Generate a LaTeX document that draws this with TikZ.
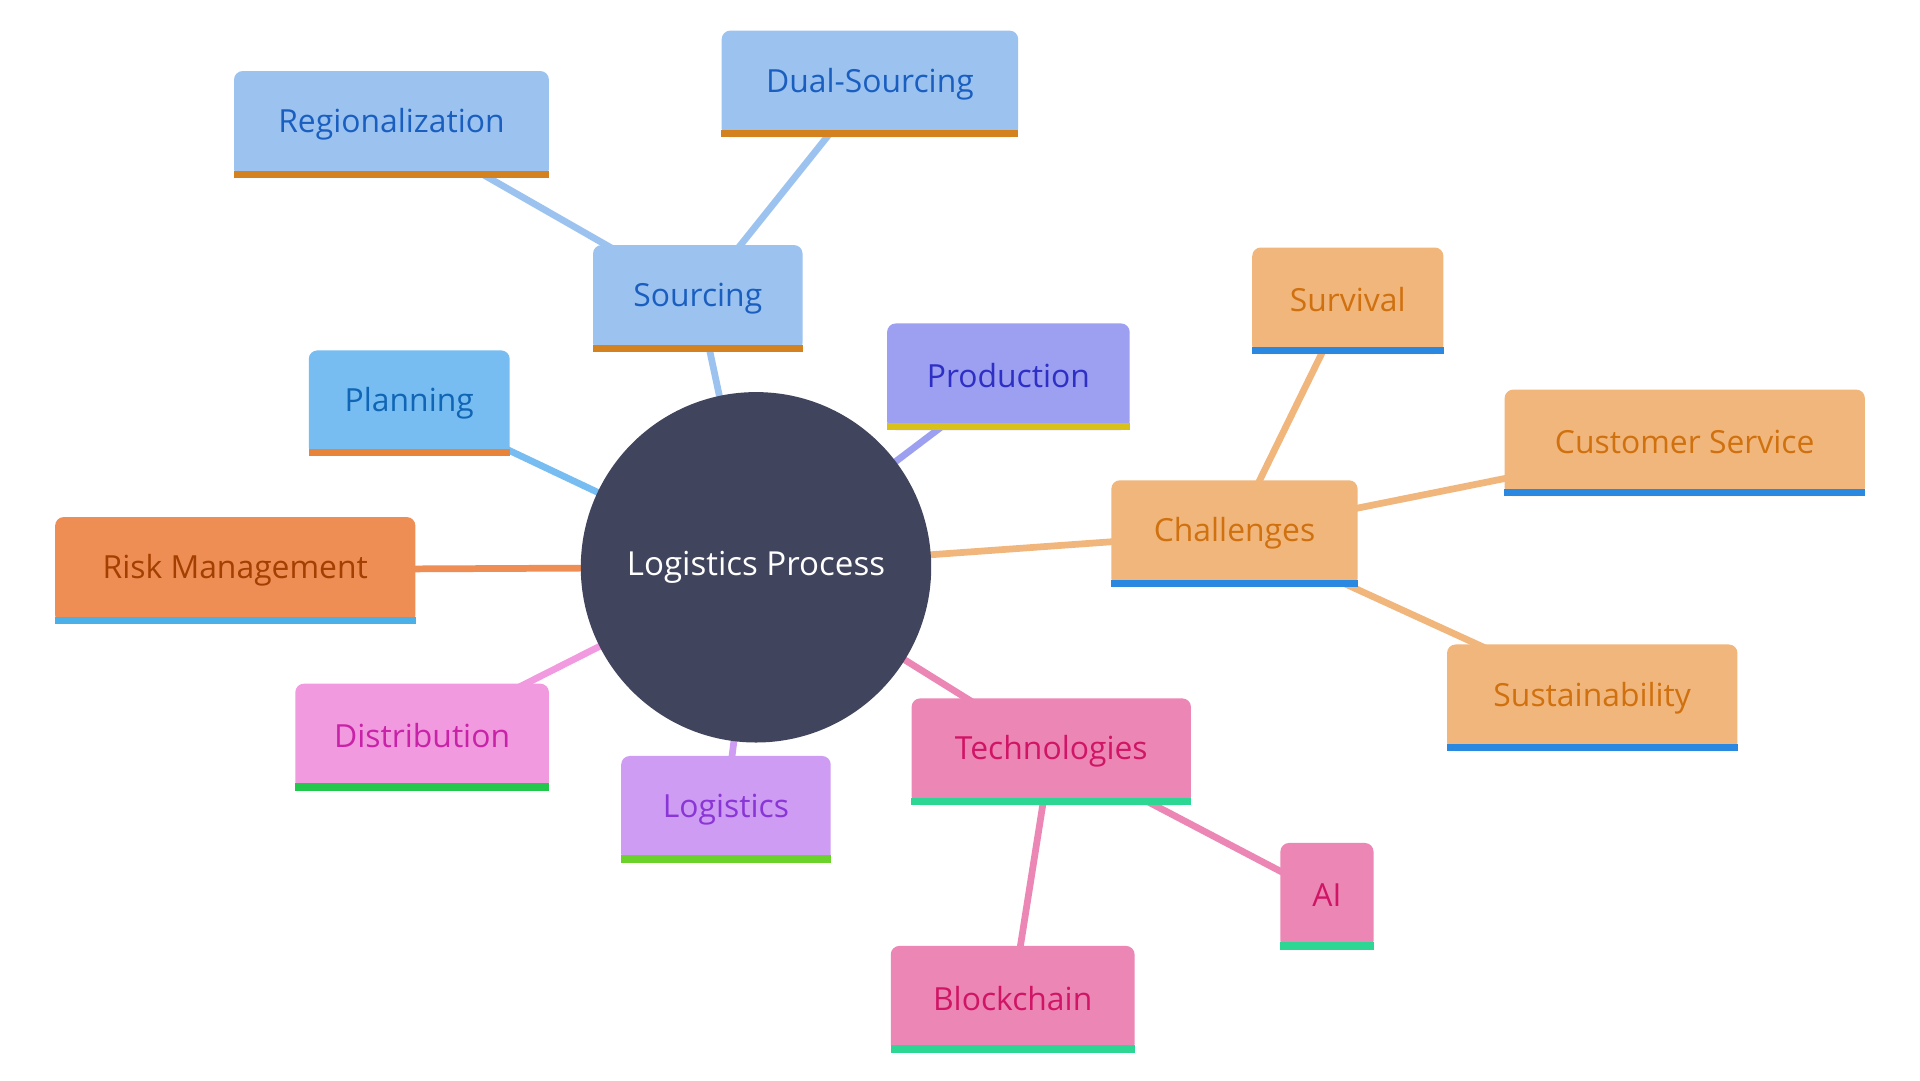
\documentclass[tikz,border=0pt]{standalone}
\usepackage{fontspec}
\setmainfont{Open Sans}
\begin{document}
\begin{tikzpicture}[x=1pt,y=-1pt,
  edge/.style={line width=5.5pt},
  box/.style={rounded corners=7pt,inner sep=0pt,font=\fontsize{26}{30}\selectfont}]
\useasboundingbox[fill=white] (0,0) rectangle (1567,882);
\newcommand\bx[9]{%
  \node[box,fill=#6,text=#8,minimum width={#4-#2},minimum height={#5-#3}] (#1) at ({(#2+#4)/2},{(#3+#5)/2}) {\raisebox{2pt}{#9}};
  \fill[#7] ([yshift=6pt]#1.south west) rectangle (#1.south east);}
\definecolor{cS}{HTML}{9CC3F0}\definecolor{tS}{HTML}{1A5FC0}\definecolor{sS}{HTML}{D4821F}
\definecolor{cP}{HTML}{77BDF2}\definecolor{tP}{HTML}{1065B5}\definecolor{sP}{HTML}{E8843A}
\definecolor{cPr}{HTML}{9D9FF0}\definecolor{tPr}{HTML}{2E2FC4}\definecolor{sPr}{HTML}{D8C21A}
\definecolor{cR}{HTML}{EE8E55}\definecolor{tR}{HTML}{A33F00}\definecolor{sR}{HTML}{4BAFE8}
\definecolor{cD}{HTML}{F29AE0}\definecolor{tD}{HTML}{C823A8}\definecolor{sD}{HTML}{22C84B}
\definecolor{cL}{HTML}{CE9CF2}\definecolor{tL}{HTML}{8A35D6}\definecolor{sL}{HTML}{6AD22B}
\definecolor{cT}{HTML}{EC87B5}\definecolor{tT}{HTML}{D01566}\definecolor{sT}{HTML}{2ED694}
\definecolor{cC}{HTML}{F1B67C}\definecolor{tC}{HTML}{D0710F}\definecolor{sC}{HTML}{2B88E0}
\definecolor{hub}{HTML}{40445C}
\coordinate (c) at (617,463);
\coordinate (reg) at (320,100);
\coordinate (dual) at (710,68);
\coordinate (src) at (570,243);
\coordinate (pln) at (334,329);
\coordinate (prd) at (823,307);
\coordinate (rsk) at (192,465);
\coordinate (dst) at (344,601);
\coordinate (lgs) at (592,660);
\coordinate (tec) at (858,613);
\coordinate (ai) at (1083,731);
\coordinate (blk) at (826,815);
\coordinate (chl) at (1007,435);
\coordinate (srv) at (1100,245);
\coordinate (cus) at (1375,361);
\coordinate (sus) at (1300,569);
\draw[edge,cS] (reg)--(src) (dual)--(src) (src)--(c);
\draw[edge,cP] (pln)--(c);
\draw[edge,cPr] (prd)--(c);
\draw[edge,cR] (rsk)--(c);
\draw[edge,cD] (dst)--(c);
\draw[edge,cL] (lgs)--(c);
\draw[edge,cT] (tec)--(c) (tec)--(ai) (tec)--(blk);
\draw[edge,cC] (chl)--(c) (chl)--(srv) (chl)--(cus) (chl)--(sus);
\node[circle,fill=hub,minimum size=286pt,text=white,font=\fontsize{27}{30}\selectfont] (hubn) at (c) {Logistics Process};
\bx{Reg}{191}{58}{448}{145}{cS}{sS}{tS}{Regionalization}
\bx{Dual}{589}{25}{831}{112}{cS}{sS}{tS}{Dual-Sourcing}
\bx{Src}{484}{200}{655}{287}{cS}{sS}{tS}{Sourcing}
\bx{Pln}{252}{286}{416}{372}{cP}{sP}{tP}{Planning}
\bx{Prd}{724}{264}{922}{351}{cPr}{sPr}{tPr}{Production}
\bx{Rsk}{45}{422}{339}{509}{cR}{sR}{tR}{Risk Management}
\bx{Dst}{241}{558}{448}{645}{cD}{sD}{tD}{Distribution}
\bx{Lgs}{507}{617}{678}{704}{cL}{sL}{tL}{Logistics}
\bx{Tec}{744}{570}{972}{657}{cT}{sT}{tT}{Technologies}
\bx{AI}{1045}{688}{1121}{775}{cT}{sT}{tT}{AI}
\bx{Blk}{727}{772}{926}{859}{cT}{sT}{tT}{Blockchain}
\bx{Chl}{907}{392}{1108}{479}{cC}{sC}{tC}{Challenges}
\bx{Srv}{1022}{202}{1178}{289}{cC}{sC}{tC}{Survival}
\bx{Cus}{1228}{318}{1522}{405}{cC}{sC}{tC}{Customer Service}
\bx{Sus}{1181}{526}{1418}{613}{cC}{sC}{tC}{Sustainability}
\end{tikzpicture}
\end{document}
